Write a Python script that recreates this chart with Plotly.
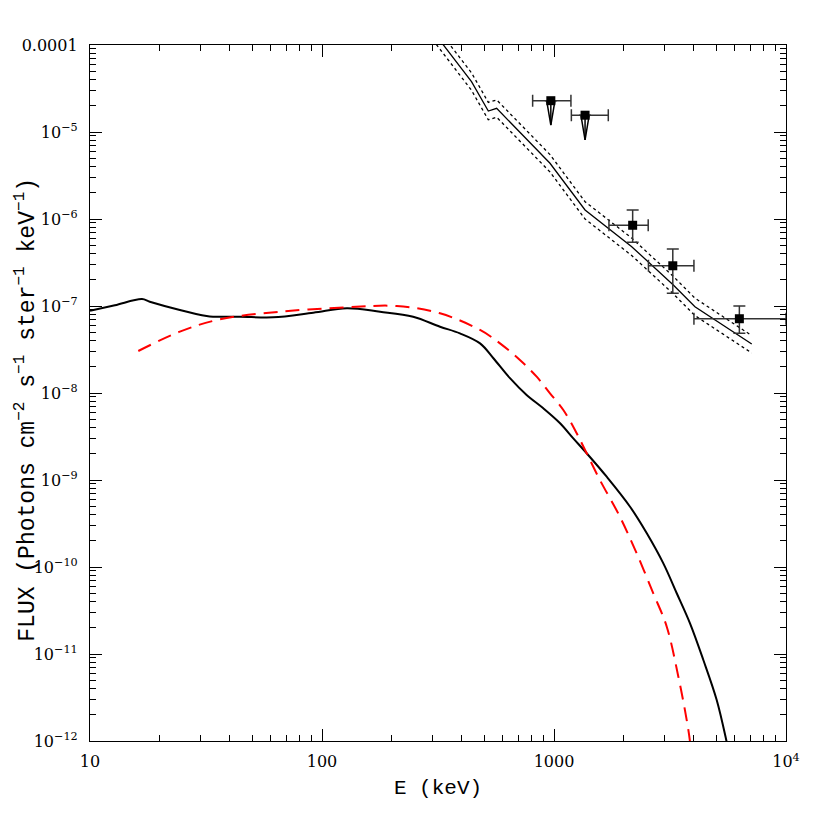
import plotly.graph_objects as go

# ---- Data ----
# Black solid model curve (E in keV, flux)
model_E = [10.0, 12.8, 16.75, 18.1, 24.4, 31.8, 33.9, 44.2, 61.5, 91.7, 128, 178, 247,
           322.6, 393, 480, 548, 646, 762, 899, 1062, 1211, 1383, 1687, 2127, 2512,
           2960, 3381, 3857, 4403, 5027, 5548, 5741]
model_F = [8.8e-8, 1.02e-7, 1.20e-7, 1.12e-7, 9.0e-8, 7.67e-8, 7.53e-8, 7.53e-8, 7.41e-8,
           8.38e-8, 9.42e-8, 8.59e-8, 7.53e-8, 5.78e-8, 4.85e-8, 3.72e-8, 2.51e-8, 1.48e-8,
           9.49e-9, 6.67e-9, 4.49e-9, 3.01e-9, 2.03e-9, 1.09e-9, 4.93e-10, 2.44e-10,
           1.10e-10, 4.99e-11, 2.25e-11, 8.53e-12, 2.96e-12, 9.8e-13, 6.3e-13]

# Red dashed curve
red_E = [16.15, 24.4, 36.3, 65.9, 128, 210, 322.6, 480, 585, 713, 842, 961, 1097, 1253,
         1383, 1577, 1923, 2270, 2679, 3062, 3436, 3733, 3857, 3917]
red_F = [3.04e-8, 5.07e-8, 7.03e-8, 8.59e-8, 9.66e-8, 1.0e-7, 8.24e-8, 5.30e-8, 3.72e-8,
         2.39e-8, 1.54e-8, 9.93e-9, 6.38e-9, 3.44e-9, 2.03e-9, 1.0e-9, 3.79e-10,
         1.44e-10, 4.99e-11, 2.06e-11, 5.48e-12, 1.74e-12, 9.8e-13, 6.3e-13]

# Upper power-law band (solid + dotted bounds)
band_E = [300, 333, 441, 521, 566, 961, 1361, 2163, 3268, 4051, 6030, 7118]
band_F = [1.45e-4, 1.0e-4, 3.79e-5, 1.74e-5, 1.87e-5, 4.37e-6, 1.27e-6, 4.81e-7,
          1.74e-7, 9.82e-8, 4.85e-8, 3.66e-8]
band_hi = [1.82e-4, 1.26e-4, 4.79e-5, 2.19e-5, 2.34e-5, 5.50e-6, 1.58e-6, 6.03e-7,
           2.19e-7, 1.23e-7, 6.17e-8, 4.57e-8]
band_lo = [1.15e-4, 7.94e-5, 3.02e-5, 1.38e-5, 1.48e-5, 3.47e-6, 1.0e-6, 3.80e-7,
           1.38e-7, 7.76e-8, 3.89e-8, 2.88e-8]

# Measured points
pt_E = [969, 1361, 2183, 3251, 6295]
pt_F = [2.29e-5, 1.56e-5, 8.47e-7, 2.9e-7, 7.14e-8]
pt_Elo = [809, 1188, 1725, 2553, 4010]
pt_Ehi = [1183, 1714, 2547, 4010, 10000]
pt_Flo = [None, None, 5.4e-7, 1.40e-7, 4.85e-8]
pt_Fhi = [None, None, 1.27e-6, 4.52e-7, 1.0e-7]
is_limit = [True, True, False, False, False]
limit_tip = [1.2e-5, 8.1e-6]

x_tickvals = [10, 100, 1000, 10000]
x_ticktext = ["10", "100", "1000", "10<sup>4</sup>"]
y_tickvals = [1e-12, 1e-11, 1e-10, 1e-9, 1e-8, 1e-7, 1e-6, 1e-5, 1e-4]
y_ticktext = ["10<sup>−12</sup>", "10<sup>−11</sup>", "10<sup>−10</sup>", "10<sup>−9</sup>",
              "10<sup>−8</sup>", "10<sup>−7</sup>", "10<sup>−6</sup>", "10<sup>−5</sup>",
              "0.0001"]

y_title = "FLUX (Photons cm<sup>−2</sup> s<sup>−1</sup> ster<sup>−1</sup> keV<sup>−1</sup>)"
x_title = "E (keV)"

TICKFONT = "DejaVu Serif"
TITLEFONT = "Liberation Mono"

fig = go.Figure()

fig.add_trace(go.Scatter(x=model_E, y=model_F, mode="lines",
                         line=dict(color="black", width=2, shape="spline", smoothing=1.0),
                         showlegend=False))
fig.add_trace(go.Scatter(x=red_E, y=red_F, mode="lines",
                         line=dict(color="#ff0000", width=2, dash="14px,8px",
                                   shape="spline", smoothing=1.0),
                         showlegend=False))

fig.add_trace(go.Scatter(x=band_E, y=band_F, mode="lines",
                         line=dict(color="black", width=1.3), showlegend=False))
for arr in (band_hi, band_lo):
    fig.add_trace(go.Scatter(x=band_E, y=arr, mode="lines",
                             line=dict(color="black", width=1.3, dash="dot"),
                             showlegend=False))

# Upper-limit arrows (open narrow triangles)
ax, ay = [], []
k = 0
for E, F, lim in zip(pt_E, pt_F, is_limit):
    if lim:
        tip = limit_tip[k]
        k += 1
        ax += [E / 1.042, E, E * 1.042, None, E, E, None]
        ay += [F, tip, F, None, F, tip, None]
fig.add_trace(go.Scatter(x=ax, y=ay, mode="lines",
                         line=dict(color="black", width=1.5), showlegend=False))

# Error bars and squares
ex_plus = [h - e for h, e in zip(pt_Ehi, pt_E)]
ex_minus = [e - l for e, l in zip(pt_E, pt_Elo)]
ey_plus = [(h - f) if h is not None else 0 for h, f in zip(pt_Fhi, pt_F)]
ey_minus = [(f - l) if l is not None else 0 for f, l in zip(pt_F, pt_Flo)]
fig.add_trace(go.Scatter(
    x=pt_E, y=pt_F, mode="markers",
    marker=dict(symbol="square", size=9, color="black"),
    error_x=dict(type="data", symmetric=False, array=ex_plus, arrayminus=ex_minus,
                 color="#333333", thickness=1.5, width=6),
    error_y=dict(type="data", symmetric=False, array=ey_plus, arrayminus=ey_minus,
                 color="#333333", thickness=1.5, width=6),
    showlegend=False))

axis_common = dict(type="log", showgrid=False, zeroline=False, showline=True,
                   linecolor="black", linewidth=1.3, mirror="allticks",
                   ticks="inside", ticklen=12, tickwidth=1.3, tickcolor="black",
                   automargin=False,
                   tickfont=dict(family=TICKFONT, size=16, color="black"),
                   minor=dict(ticks="inside", ticklen=6, tickwidth=1.1,
                              tickcolor="black", dtick="D1", showgrid=False))

fig.update_xaxes(**axis_common, range=[1, 4], tickvals=x_tickvals, ticktext=x_ticktext,
                 ticklabelstandoff=6,
                 title=dict(text=x_title, font=dict(family=TITLEFONT, size=21, color="black"),
                            standoff=8))
fig.update_yaxes(**axis_common, range=[-12, -4], tickvals=y_tickvals, ticktext=y_ticktext,
                 ticklabelstandoff=8)

# Y-axis title as an annotation so it can sit slightly below the plot centre
fig.add_annotation(text=y_title, xref="paper", yref="paper", x=-0.1164, y=0.476,
                   xanchor="left", yanchor="middle", textangle=-90, showarrow=False,
                   font=dict(family=TITLEFONT, size=23, color="black"))

fig.update_layout(width=814, height=814, plot_bgcolor="white", paper_bgcolor="white",
                  margin=dict(l=82, r=36, t=37, b=81), showlegend=False)

fig.write_html("out.html")
